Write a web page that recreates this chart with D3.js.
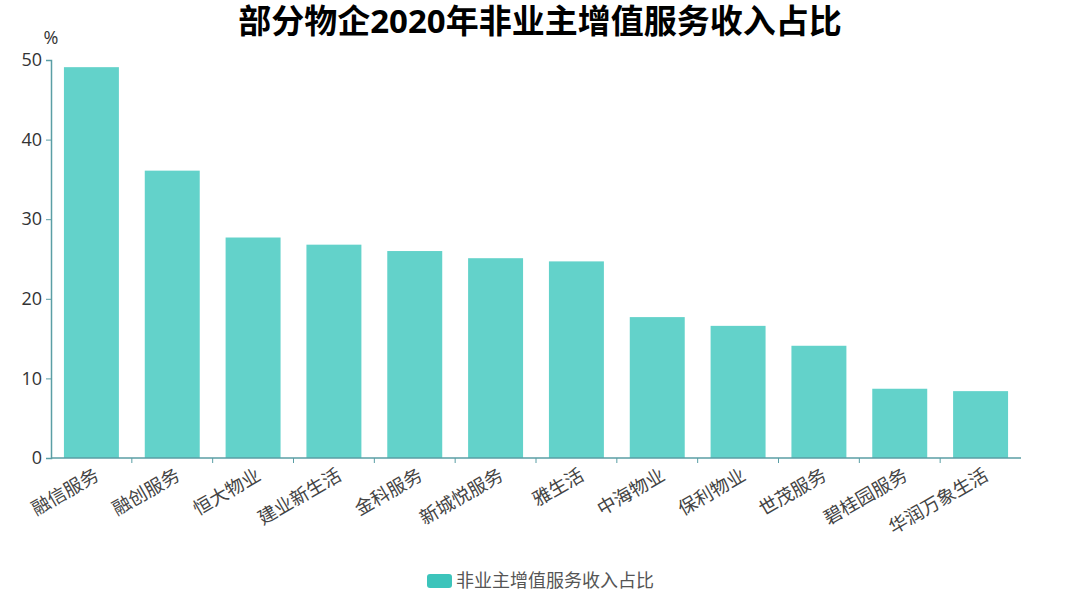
<!DOCTYPE html>
<html>
<head>
<meta charset="utf-8">
<script src="https://cdn.jsdelivr.net/npm/d3@7"></script>
<style>
  body { margin: 0; background: #fff; }
  text { font-family: "Open Sans", "Noto Sans CJK SC", sans-serif; }
</style>
</head>
<body>
<svg id="chart"></svg>
<script>
const categories = ["融信服务", "融创服务", "恒大物业", "建业新生活", "金科服务", "新城悦服务",
  "雅生活", "中海物业", "保利物业", "世茂服务", "碧桂园服务", "华润万象生活"];
const values = [49.1, 36.1, 27.7, 26.8, 26.0, 25.1, 24.7, 17.7, 16.6, 14.1, 8.7, 8.4];
const yTicks = [0, 10, 20, 30, 40, 50];
const seriesName = "非业主增值服务收入占比";

const width = 1080, height = 595;
const margin = { left: 51, right: 59, top: 60, bottom: 137 };

const svg = d3.select("#chart").attr("width", width).attr("height", height);

const x = d3.scaleBand()
  .domain(categories)
  .range([margin.left, width - margin.right])
  .paddingInner(0.32)
  .paddingOuter(0.16);

const y = d3.scaleLinear()
  .domain([0, 50])
  .range([height - margin.bottom, margin.top]);

const axisColor = "#5a9ea5";

// bars
svg.selectAll(".bar")
  .data(values)
  .enter()
  .append("rect")
  .attr("class", "bar")
  .attr("x", (d, i) => x(categories[i]))
  .attr("y", d => y(d))
  .attr("width", x.bandwidth())
  .attr("height", d => y(0) - y(d))
  .attr("fill", "#63d2ca");

// y axis
const yAxis = svg.append("g")
  .attr("transform", `translate(${margin.left},0)`)
  .call(d3.axisLeft(y).tickValues(yTicks).tickSize(5).tickPadding(4));
yAxis.select(".domain").attr("stroke", axisColor).attr("stroke-width", 1.5);
yAxis.selectAll(".tick line").attr("stroke", axisColor);
yAxis.selectAll(".tick text").attr("fill", "#333").style("font-size", "18px");

// x axis with ticks on band boundaries
const xAxis = svg.append("g")
  .attr("transform", `translate(0,${y(0)})`);
xAxis.append("line")
  .attr("x1", margin.left).attr("x2", width - margin.right)
  .attr("stroke", axisColor).attr("stroke-width", 1.5);
xAxis.selectAll(".xtick")
  .data(categories.slice(1))
  .enter()
  .append("line")
  .attr("x1", d => x(d) - x.step() * x.paddingInner() / 2)
  .attr("x2", d => x(d) - x.step() * x.paddingInner() / 2)
  .attr("y1", 0).attr("y2", 5)
  .attr("stroke", axisColor);
xAxis.selectAll(".xlabel")
  .data(categories)
  .enter()
  .append("text")
  .attr("transform", d => `translate(${x(d) + x.bandwidth() / 2 + 2},9) rotate(-30)`)
  .attr("text-anchor", "end")
  .attr("dy", "0.75em")
  .attr("fill", "#444")
  .style("font-size", "18.5px")
  .text(d => d);

// unit label
svg.append("text")
  .attr("x", margin.left).attr("y", 44)
  .attr("text-anchor", "middle")
  .attr("fill", "#333")
  .style("font-size", "18px")
  .text("%");

// title
svg.append("text")
  .attr("x", width / 2).attr("y", 33)
  .attr("text-anchor", "middle")
  .attr("fill", "#000")
  .style("font-size", "33px")
  .style("font-weight", "bold")
  .text("部分物企2020年非业主增值服务收入占比");

// legend
const legend = svg.append("g").attr("transform", "translate(427,574)");
legend.append("rect")
  .attr("width", 25).attr("height", 14).attr("rx", 3)
  .attr("fill", "#3cc4bb");
legend.append("text")
  .attr("x", 29).attr("y", 7).attr("dy", "0.35em")
  .attr("fill", "#555")
  .style("font-size", "18px")
  .text(seriesName);
</script>
</body>
</html>
